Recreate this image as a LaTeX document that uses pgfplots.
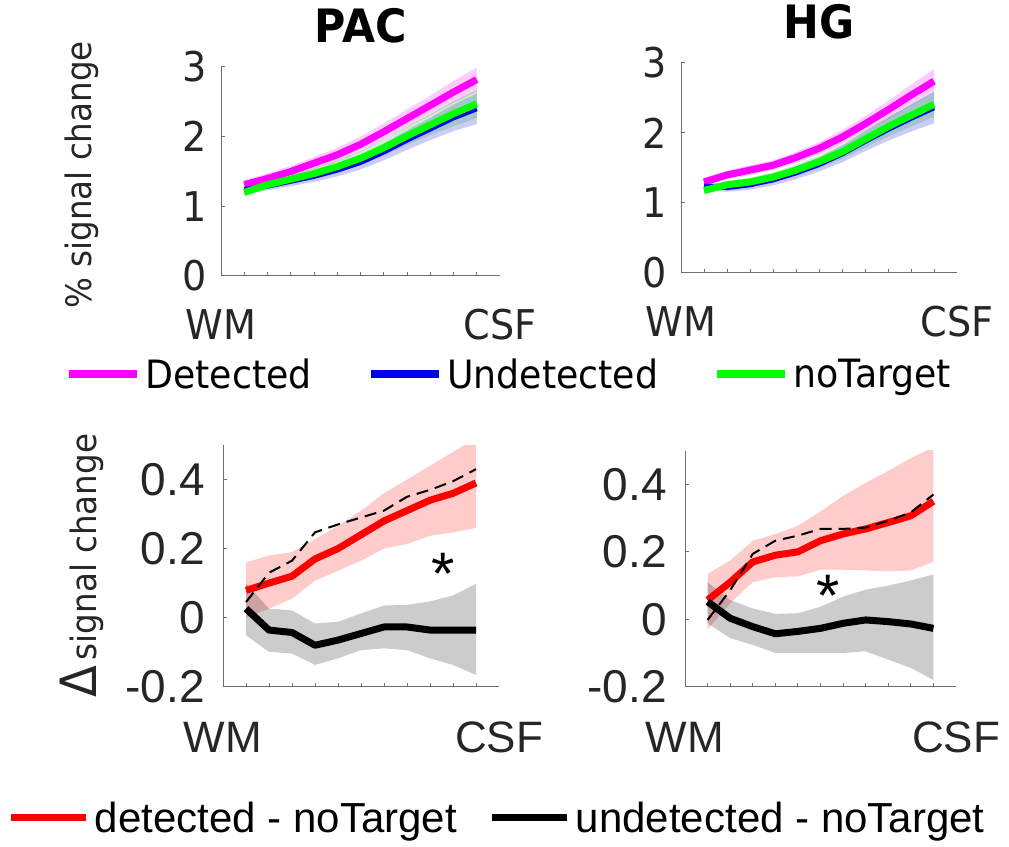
\documentclass[border=0pt]{standalone}
\usepackage{fontspec}
\setmainfont{DejaVu Sans}[FakeStretch=0.93]
\newfontfamily\lib{Liberation Sans}
\usepackage{pgfplots}
\pgfplotsset{compat=1.18}

\definecolor{axgray}{RGB}{110,110,110}
\definecolor{txt}{RGB}{38,38,38}
\definecolor{cmag}{RGB}{255,0,255}
\definecolor{cblue}{RGB}{0,0,235}
\definecolor{cgreen}{RGB}{0,255,0}
\definecolor{cred}{RGB}{255,0,0}

\pgfplotsset{
 base/.style={
   scale only axis, anchor=south west,
   xmin=0, xmax=12,
   axis x line*=bottom, axis y line*=left,
   tick pos=left, tick align=inside,
   axis line style={axgray, line width=1pt},
   major tick style={axgray, line width=1pt},
   major tick length=4pt,
   xtick={1,...,11}, xticklabels={},
   extra x ticks={0,12}, extra x tick labels={WM,CSF},
   extra x tick style={major tick length=0pt},
   xticklabel style={anchor=north, inner sep=0pt, text=txt},
   yticklabel style={anchor=east, inner sep=0pt, text=txt},
   every axis y label/.style={rotate=90, anchor=center, font=\fontsize{35}{35}\selectfont, text=txt},
   title style={at={(0.5,1)}, anchor=base, yshift=18pt, font=\fontsize{46}{46}\selectfont\bfseries},
 },
 top/.style={base, ymin=0, ymax=3, ytick={0,1,2,3}, yticklabels={0,1,2,3},
   yticklabel style={xshift=-14pt, font=\fontsize{41}{41}\selectfont},
   xticklabel style={yshift=-33pt, font=\fontsize{41}{41}\selectfont}},
 bot/.style={base, ymin=-0.2, ymax=0.5, ytick={-0.2,0,0.2,0.4}, yticklabels={-0.2,0,0.2,0.4},
   yticklabel style={xshift=-18pt, font=\fontsize{46}{46}\selectfont\lib},
   xticklabel style={yshift=-35pt, font=\fontsize{44}{44}\selectfont\lib}},
}

\begin{document}
\begin{tikzpicture}
\useasboundingbox (0,0) rectangle (1009pt,846pt);

% ---------------- Top left: PAC
\begin{axis}[top, at={(221pt,570pt)}, width=279pt, height=209pt, title={PAC},
  ylabel={\% signal change},
  ylabel style={at={(axis description cs:-0.498,0.483)}},
  legend columns=3, legend cell align=left,
  legend style={draw=none, fill=none, inner sep=0pt, outer sep=0pt,
    at={(-0.559,-0.469)}, anchor=west,
    font=\fontsize{39}{39}\selectfont, text=black, nodes={inner sep=0pt},
    /tikz/every odd column/.append style={column sep=5pt},
    /tikz/every even column/.append style={column sep=55pt}},
  legend image code/.code={\draw[#1, line width=7.5pt] (0pt,0pt) -- (68pt,0pt);},
]
\addplot[forget plot, draw=none, fill=cmag, fill opacity=0.2] coordinates {
 (1,1.38) (2,1.47) (3,1.58) (4,1.71) (5,1.84) (6,2.00) (7,2.19) (8,2.39) (9,2.59) (10,2.80) (11,2.99)
 (11,2.65) (10,2.48) (9,2.31) (8,2.13) (7,1.95) (6,1.78) (5,1.64) (4,1.53) (3,1.42) (2,1.33) (1,1.24)} -- cycle;
\addplot[forget plot, draw=none, fill=cblue, fill opacity=0.2] coordinates {
 (1,1.30) (2,1.35) (3,1.43) (4,1.51) (5,1.61) (6,1.73) (7,1.90) (8,2.09) (9,2.27) (10,2.46) (11,2.62)
 (11,2.18) (10,2.08) (9,1.95) (8,1.81) (7,1.66) (6,1.53) (5,1.43) (4,1.35) (3,1.29) (2,1.23) (1,1.18)} -- cycle;
\addplot[forget plot, draw=none, fill=cgreen!70!black, fill opacity=0.2] coordinates {
 (1,1.25) (2,1.37) (3,1.46) (4,1.55) (5,1.66) (6,1.79) (7,1.95) (8,2.14) (9,2.32) (10,2.51) (11,2.67)
 (11,2.27) (10,2.15) (9,2.02) (8,1.88) (7,1.73) (6,1.59) (5,1.48) (4,1.39) (3,1.32) (2,1.25) (1,1.15)} -- cycle;
\addplot[cmag, line width=7pt, line join=round] coordinates {
 (1,1.31) (2,1.40) (3,1.50) (4,1.62) (5,1.74) (6,1.89) (7,2.07) (8,2.26) (9,2.45) (10,2.64) (11,2.82)};
\addlegendentry{Detected}
\addplot[cblue, line width=5pt, line join=round] coordinates {
 (1,1.24) (2,1.29) (3,1.36) (4,1.43) (5,1.52) (6,1.63) (7,1.78) (8,1.95) (9,2.11) (10,2.27) (11,2.40)};
\addlegendentry{Undetected}
\addplot[cgreen, line width=7pt, line join=round] coordinates {
 (1,1.20) (2,1.31) (3,1.39) (4,1.47) (5,1.57) (6,1.69) (7,1.84) (8,2.01) (9,2.17) (10,2.33) (11,2.47)};
\addlegendentry{noTarget}
\end{axis}

% ---------------- Top right: HG
\begin{axis}[top, at={(681pt,573pt)}, width=276pt, height=210pt, title={HG}]
\addplot[forget plot, draw=none, fill=cmag, fill opacity=0.2] coordinates {
 (1,1.36) (2,1.46) (3,1.54) (4,1.61) (5,1.73) (6,1.87) (7,2.04) (8,2.24) (9,2.46) (10,2.69) (11,2.91)
 (11,2.57) (10,2.39) (9,2.20) (8,2.02) (7,1.84) (6,1.69) (5,1.57) (4,1.47) (3,1.40) (2,1.34) (1,1.24)} -- cycle;
\addplot[forget plot, draw=none, fill=cblue, fill opacity=0.2] coordinates {
 (1,1.30) (2,1.28) (3,1.33) (4,1.41) (5,1.52) (6,1.65) (7,1.82) (8,2.02) (9,2.21) (10,2.40) (11,2.58)
 (11,2.14) (10,2.02) (9,1.89) (8,1.74) (7,1.58) (6,1.45) (5,1.34) (4,1.25) (3,1.19) (2,1.16) (1,1.18)} -- cycle;
\addplot[forget plot, draw=none, fill=cgreen!70!black, fill opacity=0.2] coordinates {
 (1,1.23) (2,1.32) (3,1.36) (4,1.44) (5,1.55) (6,1.68) (7,1.83) (8,2.03) (9,2.23) (10,2.41) (11,2.59)
 (11,2.23) (10,2.09) (9,1.95) (8,1.79) (7,1.63) (6,1.50) (5,1.39) (4,1.30) (3,1.24) (2,1.20) (1,1.13)} -- cycle;
\addplot[cmag, line width=7pt, line join=round] coordinates {
 (1,1.30) (2,1.40) (3,1.47) (4,1.54) (5,1.65) (6,1.78) (7,1.94) (8,2.13) (9,2.33) (10,2.54) (11,2.74)};
\addplot[cblue, line width=5pt, line join=round] coordinates {
 (1,1.24) (2,1.22) (3,1.26) (4,1.33) (5,1.43) (6,1.55) (7,1.70) (8,1.88) (9,2.05) (10,2.21) (11,2.36)};
\addplot[cgreen, line width=7pt, line join=round] coordinates {
 (1,1.18) (2,1.26) (3,1.30) (4,1.37) (5,1.47) (6,1.59) (7,1.73) (8,1.91) (9,2.09) (10,2.25) (11,2.41)};
\end{axis}

% ---------------- Bottom left
\begin{axis}[bot, at={(223pt,159.3pt)}, width=276pt, height=241.7pt,
  ylabel={{\fontsize{50}{50}\selectfont Δ}\,signal change},
  ylabel style={at={(axis description cs:-0.511,0.5)}},
  legend columns=2, legend cell align=left,
  legend style={draw=none, fill=none, inner sep=0pt, outer sep=0pt,
    at={(-0.779,-0.543)}, anchor=west,
    font=\fontsize{42}{42}\selectfont\lib, text=black, nodes={inner sep=0pt},
    /tikz/every odd column/.append style={column sep=5pt},
    /tikz/every even column/.append style={column sep=32pt}},
  legend image code/.code={\draw[#1] (0pt,0pt) -- (75pt,0pt);},
]
\addplot[forget plot, draw=none, fill=cred, fill opacity=0.2] coordinates {
 (1,0.16) (2,0.18) (3,0.19) (4,0.227) (5,0.266) (6,0.31) (7,0.36) (8,0.40) (9,0.44) (10,0.48) (11,0.52)
 (11,0.26) (10,0.247) (9,0.237) (8,0.213) (7,0.20) (6,0.165) (5,0.136) (4,0.107) (3,0.055) (2,0.026) (1,0.0)} -- cycle;
\addplot[forget plot, draw=none, fill=black, fill opacity=0.2] coordinates {
 (1,0.10) (2,0.026) (3,0.021) (4,-0.017) (5,-0.012) (6,0.012) (7,0.035) (8,0.037) (9,0.047) (10,0.064) (11,0.098)
 (11,-0.166) (10,-0.137) (9,-0.118) (8,-0.094) (7,-0.089) (6,-0.094) (5,-0.118) (4,-0.137) (3,-0.104) (2,-0.099) (1,-0.051)} -- cycle;
\addplot[cred, line width=7pt, line join=round] coordinates {
 (1,0.079) (2,0.10) (3,0.12) (4,0.17) (5,0.20) (6,0.24) (7,0.28) (8,0.31) (9,0.34) (10,0.36) (11,0.39)};
\addlegendentry{detected - noTarget}
\addplot[forget plot, black, line width=2pt, dash pattern=on 12pt off 7pt] coordinates {
 (1,0.045) (2,0.13) (3,0.165) (4,0.247) (5,0.27) (6,0.29) (7,0.31) (8,0.35) (9,0.37) (10,0.395) (11,0.43)};
\addplot[black, line width=7pt, line join=round] coordinates {
 (1,0.026) (2,-0.036) (3,-0.043) (4,-0.08) (5,-0.065) (6,-0.046) (7,-0.027) (8,-0.027) (9,-0.036) (10,-0.036) (11,-0.036)};
\addlegendentry{undetected - noTarget}
\node[font=\fontsize{60}{60}\selectfont\lib, anchor=base] at (axis cs:9.57,0.068) {*};
\end{axis}

% ---------------- Bottom right
\begin{axis}[bot, at={(685pt,159.3pt)}, width=271pt, height=236pt]
\addplot[forget plot, draw=none, fill=cred, fill opacity=0.2] coordinates {
 (1,0.135) (2,0.174) (3,0.233) (4,0.253) (5,0.277) (6,0.32) (7,0.366) (8,0.405) (9,0.44) (10,0.478) (11,0.51)
 (11,0.17) (10,0.145) (9,0.142) (8,0.145) (7,0.147) (6,0.147) (5,0.127) (4,0.125) (3,0.11) (2,0.047) (1,-0.03)} -- cycle;
\addplot[forget plot, draw=none, fill=black, fill opacity=0.2] coordinates {
 (1,0.11) (2,0.057) (3,0.032) (4,0.016) (5,0.018) (6,0.037) (7,0.067) (8,0.088) (9,0.10) (10,0.115) (11,0.133)
 (11,-0.18) (10,-0.144) (9,-0.12) (8,-0.095) (7,-0.10) (6,-0.10) (5,-0.10) (4,-0.10) (3,-0.076) (2,-0.056) (1,-0.012)} -- cycle;
\addplot[cred, line width=7pt, line join=round] coordinates {
 (1,0.057) (2,0.11) (3,0.17) (4,0.19) (5,0.20) (6,0.233) (7,0.253) (8,0.268) (9,0.287) (10,0.307) (11,0.35)};
\addplot[black, line width=2pt, dash pattern=on 12pt off 7pt] coordinates {
 (1,-0.002) (2,0.086) (3,0.194) (4,0.233) (5,0.248) (6,0.268) (7,0.268) (8,0.272) (9,0.292) (10,0.317) (11,0.37)};
\addplot[black, line width=7pt, line join=round] coordinates {
 (1,0.052) (2,0.003) (3,-0.022) (4,-0.043) (5,-0.036) (6,-0.027) (7,-0.012) (8,-0.002) (9,-0.007) (10,-0.014) (11,-0.027)};
\node[font=\fontsize{60}{60}\selectfont\lib, anchor=base] at (axis cs:6.33,0.007) {*};
\end{axis}
\end{tikzpicture}
\end{document}
